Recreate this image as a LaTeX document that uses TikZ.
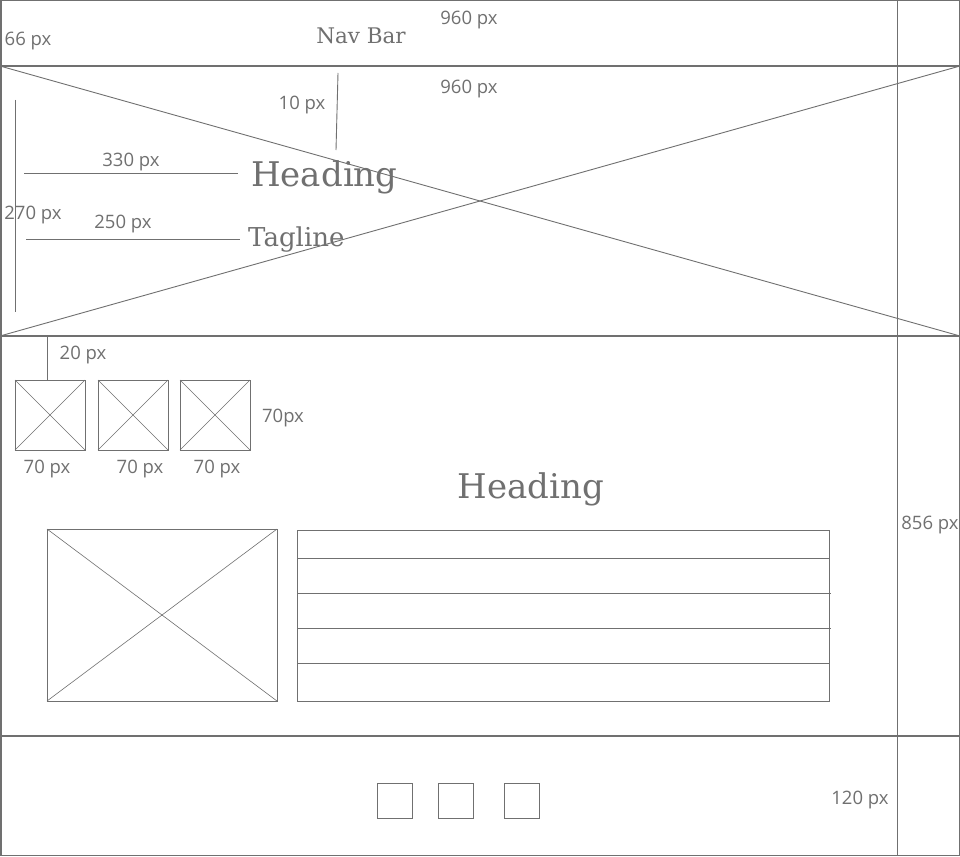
\documentclass[tikz,border=0pt]{standalone}
\usepackage{fontspec}
\setmainfont{Open Sans}
\newfontfamily\headfont{DejaVu Serif}
\definecolor{wire}{HTML}{707070}
\tikzset{
  thin line/.style={draw=wire, line width=0.9pt},
  divider/.style={draw=wire, line width=2pt},
  frame/.style={draw=wire, line width=1.5pt},
  dim/.style={text=wire, font=\fontsize{18.5}{21}\selectfont, inner sep=0pt, anchor=center},
  head/.style={text=wire, font=\headfont\fontsize{34}{38}\selectfont, inner sep=0pt},
  tag/.style={text=wire, font=\headfont\fontsize{26}{30}\selectfont, inner sep=0pt},
  nav/.style={text=wire, font=\headfont\fontsize{21.5}{24}\selectfont, inner sep=0pt},
  img/.style={thin line},
}
\begin{document}
\begin{tikzpicture}[x=1pt,y=-1pt]
\useasboundingbox (0,0) rectangle (960,856);
\fill[white] (0,0) rectangle (960,856);
% outer frame
\draw[frame] (0.75,0.75) rectangle (959.25,855.25);
% vertical right ruler line
\draw[thin line, line width=1pt] (897,0) -- (897,856);
% dividers
\draw[divider] (0,66) -- (960,66);
\draw[divider] (0,336) -- (960,336);
\draw[divider] (0,736) -- (960,736);
% hero cross
\draw[thin line] (0,66) -- (960,336);
\draw[thin line] (0,336) -- (960,66);
% nav labels
\node[nav] (navbar) at (361,35.5) {Nav Bar};
\node[dim] (w1) at (469,20) {960 px};
\node[dim] (h66) at (28,41) {66 px};
\node[dim] (w2) at (469,89) {960 px};
% hero dimension lines
\draw[thin line] (15,100) -- (15,312);
\node[dim] (h270) at (33,215) {270 px};
\draw[thin line] (338,73) -- (336,150);
\node[dim] (d10) at (302,105) {10 px};
\draw[thin line] (24,173) -- (238,173);
\node[dim] (d330) at (131,162) {330 px};
\draw[thin line] (26,239) -- (240,239);
\node[dim] (d250) at (123,224) {250 px};
\node[head, anchor=west] (heading1) at (251,177) {Heading};
\node[tag, anchor=west] (tagline) at (248,240) {Tagline};
% thumbnails
\draw[thin line] (47,337) -- (47,380);
\node[dim] (d20) at (83,355) {20 px};
\foreach \x/\n in {15/a,98/b,180/c}{
  \draw[img] (\x,380) rectangle ++(70,70);
  \draw[img, line width=0.6pt] (\x,380) -- ++(70,70);
  \draw[img, line width=0.6pt] (\x,450) -- ++(70,-70);
}
\node[dim] (t1) at (47,469) {70 px};
\node[dim] (t2) at (140,469) {70 px};
\node[dim] (t3) at (217,469) {70 px};
\node[dim] (t4) at (283,418) {70px};
% content
\node[head] (heading2) at (531,489) {Heading};
\draw[img] (47,529) rectangle (277,701);
\draw[img, line width=0.6pt] (47,529) -- (277,701);
\draw[img, line width=0.6pt] (47,701) -- (277,529);
\draw[thin line] (297,530) rectangle (829,701);
\draw[thin line] (297,558) -- (829,558);
\draw[thin line] (297,593) -- (831,593);
\draw[thin line] (297,628) -- (831,628);
\draw[thin line] (297,663) -- (829,663);
\node[dim] (h856) at (930,525) {856 px};
% footer
\draw[thin line] (377,783) rectangle ++(35,35);
\draw[thin line] (438,783) rectangle ++(35,35);
\draw[thin line] (504,783) rectangle ++(35,35);
\node[dim] (h120) at (860,800) {120 px};
\end{tikzpicture}
\end{document}
